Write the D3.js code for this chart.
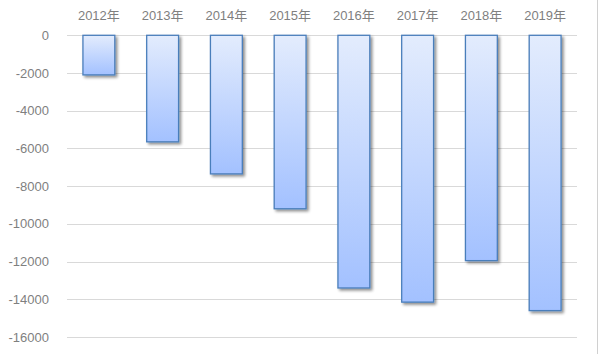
<!DOCTYPE html>
<meta charset='utf-8'>
<head>
    <title>Bars</title>
    <script src='https://cdn.jsdelivr.net/npm/d3@7/dist/d3.min.js'></script>
</head>

<style>
    body { margin: 0; background: #fff; }
    text {
        font-family: 'Liberation Sans', 'Noto Sans CJK SC', sans-serif;
        font-size: 13px;
        fill: #7f7f7f;
    }
    .grid line { stroke: #d9d9d9; stroke-width: 1px; }
    .bar { stroke: #4a7ebb; stroke-width: 1.3px; }
</style>

<svg></svg>

<script>
    var vWidth = 598;
    var vHeight = 354;

    // data
    var years = ['2012年', '2013年', '2014年', '2015年', '2016年', '2017年', '2018年', '2019年'];
    var values = [-2100, -5650, -7350, -9200, -13400, -14150, -11950, -14600];
    var yTicks = [0, -2000, -4000, -6000, -8000, -10000, -12000, -14000, -16000];

    var svg = d3.select('svg').attr('width', vWidth).attr('height', vHeight);

    // gradient + shadow
    var defs = svg.append('defs');
    var grad = defs.append('linearGradient').attr('id', 'barGrad')
        .attr('x1', 0).attr('y1', 0).attr('x2', 0).attr('y2', 1);
    grad.append('stop').attr('offset', '0%').attr('stop-color', '#e3ecfd');
    grad.append('stop').attr('offset', '100%').attr('stop-color', '#a3c1ff');

    var shadow = defs.append('filter').attr('id', 'shadow')
        .attr('x', '-20%').attr('y', '-20%').attr('width', '150%').attr('height', '150%');
    shadow.append('feGaussianBlur').attr('in', 'SourceAlpha').attr('stdDeviation', 1.6);
    shadow.append('feOffset').attr('dx', 2).attr('dy', 2).attr('result', 'off');
    shadow.append('feComponentTransfer').append('feFuncA').attr('type', 'linear').attr('slope', 0.45);
    var merge = shadow.append('feMerge');
    merge.append('feMergeNode');
    merge.append('feMergeNode').attr('in', 'SourceGraphic');

    // scales
    var x = d3.scaleBand().domain(years).range([67, 577]).paddingInner(0.5).paddingOuter(0.25);
    var y = d3.scaleLinear().domain([0, -16000]).range([35.3, 337]);

    // gridlines
    svg.append('g').attr('class', 'grid')
        .selectAll('line').data(yTicks).enter().append('line')
        .attr('x1', 67).attr('x2', 577)
        .attr('y1', function (d) { return Math.round(y(d)) + 0.5; })
        .attr('y2', function (d) { return Math.round(y(d)) + 0.5; });

    // y labels
    svg.append('g').selectAll('text').data(yTicks).enter().append('text')
        .attr('x', 49)
        .attr('y', function (d) { return y(d); })
        .attr('dy', '0.35em')
        .attr('text-anchor', 'end')
        .text(function (d) { return d; });

    // x labels on top
    svg.append('g').selectAll('text').data(years).enter().append('text')
        .attr('x', function (d) { return x(d) + x.bandwidth() / 2; })
        .attr('y', 15)
        .attr('dy', '0.35em')
        .attr('text-anchor', 'middle')
        .text(function (d) { return d; });

    // bars
    svg.append('g').selectAll('rect').data(values).enter().append('rect')
        .attr('class', 'bar')
        .attr('x', function (d, i) { return x(years[i]); })
        .attr('y', y(0))
        .attr('width', x.bandwidth())
        .attr('height', function (d) { return y(d) - y(0); })
        .attr('fill', 'url(#barGrad)')
        .attr('filter', 'url(#shadow)');

    // right border line
    svg.append('line')
        .attr('x1', 597.5).attr('x2', 597.5).attr('y1', 0).attr('y2', vHeight)
        .attr('stroke', '#d0d0d0');
</script>
